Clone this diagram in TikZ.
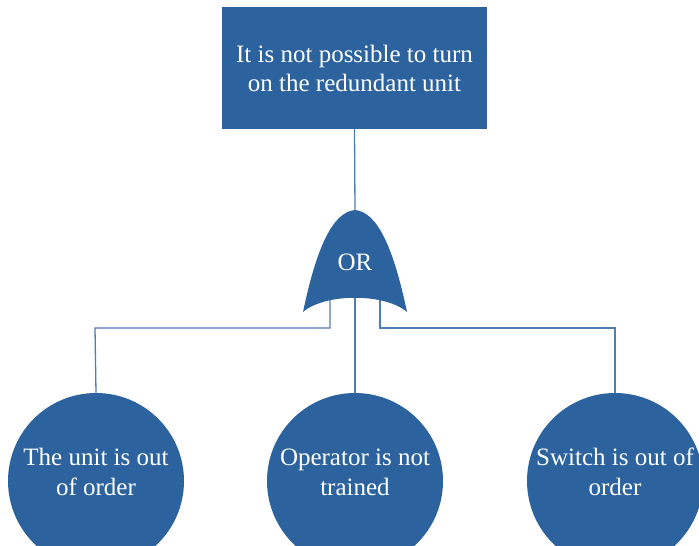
\documentclass[tikz,border=0pt]{standalone}
\usepackage{fontspec}
\setmainfont{Liberation Serif}
\definecolor{ftblue}{RGB}{44,99,158}
\definecolor{ftline}{RGB}{80,125,180}
\begin{document}
\begin{tikzpicture}[x=1pt,y=1pt,
  event/.style={fill=ftblue,draw=none,text=white,align=center,
    font=\fontsize{25}{29}\selectfont},
  topbox/.style={event,rectangle,minimum width=265pt,minimum height=122pt,inner sep=0pt},
  basic/.style={fill=ftblue,draw=none,circle,minimum size=176pt,inner sep=0pt},
  caption/.style={text=white,align=center,font=\fontsize{25}{30}\selectfont},
  wire/.style={draw=ftline,line width=1.3pt}]
\useasboundingbox (0,0) rectangle (699,-546);
\clip (0,0) rectangle (699,-546);

% top event
\node[topbox] (top) at (354.5,-68) {It is not possible to turn\\on the redundant unit};

% basic events
\node[basic] (b1) at (96,-481) {};
\node[basic] (b2) at (355,-481) {};
\node[basic] (b3) at (615,-481) {};
\node[caption] (t1) at ([yshift=9pt]b1.center) {The unit is out\\of order};
\node[caption] (t2) at ([yshift=9pt]b2.center) {Operator is not\\trained};
\node[caption] (t3) at ([yshift=9pt]b3.center) {Switch is out of\\order};

% gate anchor points
\coordinate (gtip) at (355,-210);
\coordinate (gl) at (330,-300);
\coordinate (gm) at (355,-296);
\coordinate (gr) at (380,-300);

% connectors (drawn beneath the gate)
\draw[wire] (top.south) -- (gtip);
\draw[wire] (gl) |- (95,-328) -- (b1.north);
\draw[wire] (gm) -- (b2.north);
\draw[wire] (gr) |- (615,-328) -- (b3.north);

% OR gate
\fill[ftblue] (303,-312) .. controls (316,-250) and (332,-212) .. (355,-210)
  .. controls (378,-212) and (394,-250) .. (407,-312)
  .. controls (385,-293) and (325,-293) .. (303,-312) -- cycle;
\node[text=white,font=\fontsize{25}{29}\selectfont] (gate) at (355,-262) {OR};
\end{tikzpicture}
\end{document}
